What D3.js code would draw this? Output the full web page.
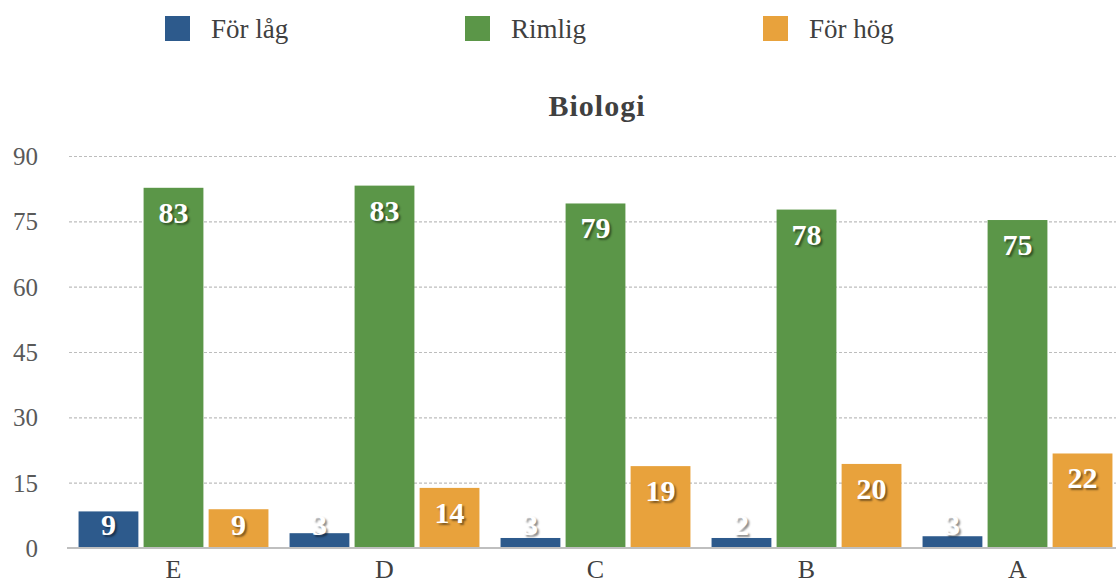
<!DOCTYPE html>
<html>
<head>
<meta charset="utf-8">
<script src="https://cdn.jsdelivr.net/npm/d3@7"></script>
<style>
  html, body { margin: 0; padding: 0; background: #fff; }
  svg { display: block; }
  svg text { font-family: "Liberation Serif", "Times New Roman", serif; }
  .lbl { text-shadow: 2px 2px 2px rgba(0,0,0,0.45); }
</style>
</head>
<body>
<svg id="chart" width="1116" height="583"></svg>
<script>
const categories = ["E", "D", "C", "B", "A"];
const seriesNames = ["För låg", "Rimlig", "För hög"];
const forLag = [8.4, 3.4, 2.3, 2.3, 2.7];
const rimlig = [82.7, 83.2, 79.1, 77.7, 75.3];
const forHog = [8.9, 13.8, 18.8, 19.3, 21.7];
const forLagLabels = ["9", "3", "3", "2", "3"];
const rimligLabels = ["83", "83", "79", "78", "75"];
const forHogLabels = ["9", "14", "19", "20", "22"];
const yTicks = [0, 15, 30, 45, 60, 75, 90];
const colors = ["#2d5a8c", "#5b9648", "#e8a23c"];

const seriesValues = [forLag, rimlig, forHog];
const seriesLabels = [forLagLabels, rimligLabels, forHogLabels];

const svg = d3.select("#chart");
const font = "Liberation Serif, Times New Roman, serif";

const y = d3.scaleLinear().domain([0, 90]).range([548, 156]);
const x0 = d3.scaleBand().domain(categories).range([68, 1123]).paddingInner(0.1).paddingOuter(0.05);
const x1 = d3.scaleBand().domain(seriesNames).range([0, x0.bandwidth()]).paddingInner(0.08);

// gridlines
const yAxis = d3.axisLeft(y).tickValues(yTicks).tickSize(-(1116 - 69)).tickPadding(30);
const gAxis = svg.append("g").attr("transform", "translate(69,0)").call(yAxis);
gAxis.attr("font-family", font);
gAxis.select(".domain").remove();
gAxis.selectAll(".tick line")
  .attr("stroke", "#bdbdbd").attr("stroke-width", 1.2).attr("stroke-dasharray", "3,2")
  .attr("opacity", d => d === 0 ? 0 : 1);
gAxis.selectAll(".tick text")
  .attr("x", -31).attr("dy", "0.34em")
  .attr("fill", "#595959").attr("font-family", font).attr("font-size", 25);

// bars
const data = [];
categories.forEach((c, i) => {
  seriesNames.forEach((s, j) => {
    data.push({ cat: c, series: s, si: j, value: seriesValues[j][i], label: seriesLabels[j][i] });
  });
});

svg.append("g").selectAll("rect").data(data).enter().append("rect")
  .attr("x", d => x0(d.cat) + x1(d.series))
  .attr("width", x1.bandwidth())
  .attr("y", d => y(d.value))
  .attr("height", d => y(0) - y(d.value))
  .attr("fill", d => colors[d.si]);

// x axis line
const xAxis = d3.axisBottom(x0).tickSize(0).tickPadding(12);
const gx = svg.append("g").attr("transform", "translate(0,548)").call(xAxis);
gx.attr("font-family", font);
gx.select(".domain").attr("d", "M67,0H1116").attr("stroke", "#bfbfbf").attr("stroke-width", 2);
gx.selectAll(".tick text")
  .attr("fill", "#404040").attr("font-family", font).attr("font-size", 26);

// value labels
svg.append("g").selectAll("text").data(data).enter().append("text")
  .attr("class", "lbl")
  .attr("x", d => x0(d.cat) + x1(d.series) + x1.bandwidth() / 2)
  .attr("y", d => Math.min(y(d.value) + 35, 535))
  .attr("text-anchor", "middle")
  .attr("fill", "#ffffff")
  .attr("font-family", font).attr("font-weight", "bold").attr("font-size", 30)
  .text(d => d.label);

// title
svg.append("text")
  .attr("x", 597).attr("y", 116)
  .attr("text-anchor", "middle")
  .attr("fill", "#404040")
  .attr("font-family", font).attr("font-weight", "bold").attr("font-size", 30)
  .style("letter-spacing", "1px")
  .text("Biologi");

// legend
const legendX = [165, 465, 763];
const lg = svg.append("g").selectAll("g").data(seriesNames).enter().append("g")
  .attr("transform", (d, i) => `translate(${legendX[i]},16)`);
lg.append("rect").attr("width", 25).attr("height", 25).attr("fill", (d, i) => colors[i]);
lg.append("text").attr("x", 46).attr("y", 22)
  .attr("fill", "#404040")
  .attr("font-family", font).attr("font-size", 27)
  .text(d => d);
</script>
</body>
</html>
